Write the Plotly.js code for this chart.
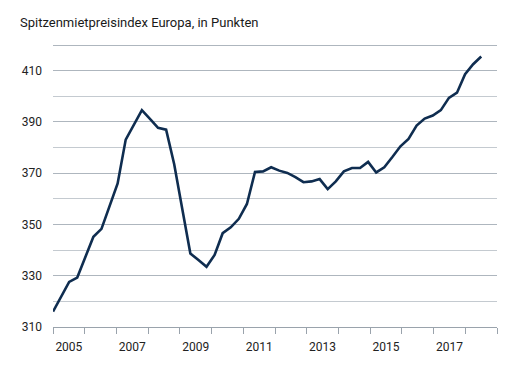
<!DOCTYPE html>
<html>
<head>
<meta charset="utf-8">
<script src="https://cdn.plot.ly/plotly-3.0.1.min.js"></script>
<style>html,body{margin:0;padding:0;background:#fff;}#chart{width:518px;height:385px;}</style>
</head>
<body>
<div id="chart"></div>
<script>
// Quarterly categories 2005 Q1 – 2018 Q2
const quarters = [
  "2005Q1","2005Q2","2005Q3","2005Q4","2006Q1","2006Q2","2006Q3","2006Q4",
  "2007Q1","2007Q2","2007Q3","2007Q4","2008Q1","2008Q2","2008Q3","2008Q4",
  "2009Q1","2009Q2","2009Q3","2009Q4","2010Q1","2010Q2","2010Q3","2010Q4",
  "2011Q1","2011Q2","2011Q3","2011Q4","2012Q1","2012Q2","2012Q3","2012Q4",
  "2013Q1","2013Q2","2013Q3","2013Q4","2014Q1","2014Q2","2014Q3","2014Q4",
  "2015Q1","2015Q2","2015Q3","2015Q4","2016Q1","2016Q2","2016Q3","2016Q4",
  "2017Q1","2017Q2","2017Q3","2017Q4","2018Q1","2018Q2"
];
// Index values (points)
const indexValues = [
  316.0, 321.8, 327.6, 329.3, 337.0, 345.2, 348.3, 357.0,
  366.0, 383.1, 389.0, 394.6, 391.2, 387.7, 387.0, 373.5,
  356.0, 338.7, 336.1, 333.5, 338.1, 346.6, 348.9, 352.2,
  358.0, 370.5, 370.7, 372.3, 371.0, 370.1, 368.5, 366.5,
  366.8, 367.7, 363.8, 366.8, 370.7, 372.0, 372.0, 374.4,
  370.3, 372.3, 376.3, 380.5, 383.4, 388.6, 391.3, 392.5,
  394.6, 399.4, 401.4, 408.6, 412.5, 415.5
];
// Axis ticks
const yearTicks = [2005,2006,2007,2008,2009,2010,2011,2012,2013,2014,2015,2016,2017,2018,2019];
const labelYears = [2005,2007,2009,2011,2013,2015,2017];
const yearLabels = ["2005","2007","2009","2011","2013","2015","2017"];
const yTickVals = [310,330,350,370,390,410,420];
const yTickText = ["310","330","350","370","390","410",""];

// axis geometry: the year scale spans the full plot width (2005 → 2019)
const xRangeMax = 54.95;
const unitsPerYear = xRangeMax / (yearTicks[yearTicks.length - 1] - yearTicks[0]);
const yearPos = y => (y - yearTicks[0]) * unitsPerYear;

const trace = {
  x: quarters,
  y: indexValues,
  type: 'scatter',
  mode: 'lines',
  line: {color: '#0f2d50', width: 2.6},
  hoverinfo: 'skip'
};

const gridColor = '#aeb6be';
const layout = {
  width: 518,
  height: 385,
  margin: {l: 53, r: 21, t: 44, b: 58, pad: 0},
  paper_bgcolor: '#ffffff',
  plot_bgcolor: '#ffffff',
  showlegend: false,
  font: {family: 'Roboto, "DejaVu Sans", sans-serif', size: 12, color: '#222222'},
  title: {
    text: 'Spitzenmietpreisindex Europa, in Punkten',
    x: 20/518, xanchor: 'left', xref: 'container',
    y: 1 - 22/385, yanchor: 'middle', yref: 'container',
    font: {family: 'Roboto, "DejaVu Sans", sans-serif', size: 13, color: '#1a1a1a'}
  },
  xaxis: {
    type: 'category',
    range: [0, xRangeMax],
    tickmode: 'array',
    tickvals: labelYears.map(y => yearPos(y + 0.5)),
    ticktext: yearLabels,
    ticks: '',
    ticklabelstandoff: 9,
    showgrid: false,
    zeroline: false,
    showline: true,
    linecolor: '#9aa3ac',
    linewidth: 1,
    tickfont: {size: 12, color: '#222222'},
    minor: {
      tickmode: 'array',
      tickvals: yearTicks.map(yearPos),
      ticks: 'outside',
      ticklen: 6,
      tickcolor: '#9aa3ac',
      tickwidth: 1,
      showgrid: false
    },
    fixedrange: true
  },
  yaxis: {
    range: [310, 420.4],
    tickmode: 'array',
    tickvals: yTickVals,
    ticktext: yTickText,
    ticks: '',
    ticklabelstandoff: 10,
    showgrid: true,
    gridcolor: gridColor,
    gridwidth: 1,
    zeroline: false,
    showline: false,
    tickfont: {size: 12, color: '#222222'},
    minor: {
      tickmode: 'linear',
      tick0: 310,
      dtick: 10,
      showgrid: true,
      gridcolor: '#c4cad0',
      gridwidth: 1,
      ticks: ''
    },
    fixedrange: true
  }
};

Plotly.newPlot('chart', [trace], layout, {displayModeBar: false, staticPlot: true});
</script>
</body>
</html>
